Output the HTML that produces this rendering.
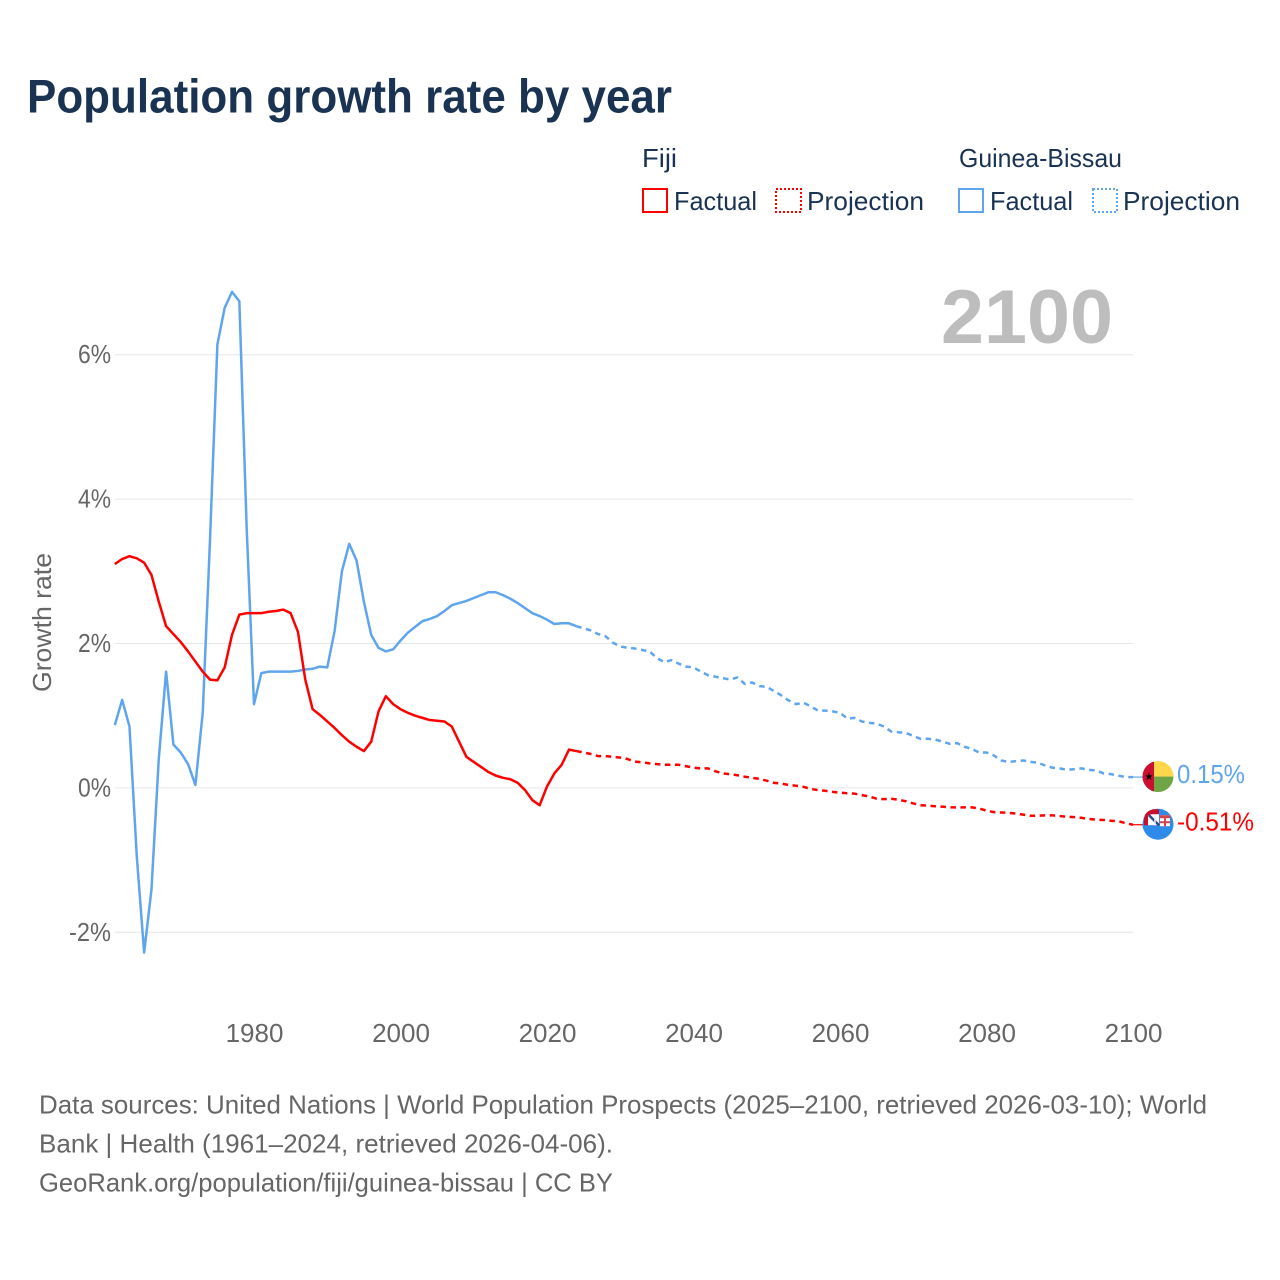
<!DOCTYPE html>
<html lang="en">
<head>
<meta charset="utf-8">
<title>Population growth rate by year</title>
<style>
html,body{margin:0;padding:0;background:#fff;}
svg{display:block;font-family:"Liberation Sans",sans-serif;}
</style>
</head>
<body>
<svg id="chart" xmlns="http://www.w3.org/2000/svg" width="1280" height="1280" viewBox="0 0 1280 1280">
  <rect x="0" y="0" width="1280" height="1280" fill="#fff"/>
  <text x="27" y="112.5" font-size="47" font-weight="700" fill="#1a3353" textLength="645" lengthAdjust="spacingAndGlyphs">Population growth rate by year</text>

  <g font-size="26" fill="#1a3353">
    <text x="642" y="167" textLength="35" lengthAdjust="spacingAndGlyphs">Fiji</text>
    <text x="959" y="167" textLength="163" lengthAdjust="spacingAndGlyphs">Guinea-Bissau</text>
    <rect x="643" y="189" width="24" height="23" fill="none" stroke="#ff0000" stroke-width="2"/>
    <text x="674" y="210" textLength="83" lengthAdjust="spacingAndGlyphs">Factual</text>
    <rect x="776" y="189" width="25" height="23" fill="none" stroke="#ff0000" stroke-width="2" stroke-dasharray="2 2"/>
    <text x="807" y="210" textLength="117" lengthAdjust="spacingAndGlyphs">Projection</text>
    <rect x="959" y="189" width="24" height="23" fill="none" stroke="#5fa5ee" stroke-width="2"/>
    <text x="990" y="210" textLength="83" lengthAdjust="spacingAndGlyphs">Factual</text>
    <rect x="1093" y="189" width="24" height="23" fill="none" stroke="#5fa5ee" stroke-width="2" stroke-dasharray="2 2"/>
    <text x="1123" y="210" textLength="117" lengthAdjust="spacingAndGlyphs">Projection</text>
  </g>

  <g id="grid"></g>
  <text x="941" y="343" font-size="76" font-weight="700" fill="#bdbdbd" textLength="172" lengthAdjust="spacingAndGlyphs">2100</text>
  <g id="yTicks" font-size="26" fill="#666"></g>
  <g id="xTicks" font-size="26" fill="#666"></g>
  <text transform="translate(51,692) rotate(-90)" font-size="26" fill="#666" textLength="139" lengthAdjust="spacingAndGlyphs">Growth rate</text>
  <g id="series" fill="none" stroke-linejoin="round"></g>

  <g id="flagGuinea">
    <clipPath id="clipGuinea"><circle cx="0" cy="0" r="15.5"/></clipPath>
    <g clip-path="url(#clipGuinea)">
      <rect x="-16" y="-16" width="32" height="16" fill="#fdd64a"/>
      <rect x="-16" y="0" width="32" height="16" fill="#6fa544"/>
      <rect x="-16" y="-16" width="12" height="32" fill="#cc0f2f"/>
    </g>
    <polygon points="-9,-4 -8,-1.2 -5.2,-1.2 -7.4,0.6 -6.6,3.4 -9,1.7 -11.4,3.4 -10.6,0.6 -12.8,-1.2 -10,-1.2" fill="#000"/>
  </g>
  <g id="flagFiji">
    <clipPath id="clipFiji"><circle cx="0" cy="0" r="15.5"/></clipPath>
    <g clip-path="url(#clipFiji)">
      <rect x="-16" y="-16" width="32" height="32" fill="#2f8bea"/>
      <rect x="2" y="-9" width="10" height="11" fill="#fff"/>
      <rect x="2" y="-9" width="10" height="3" fill="#d8434b"/>
      <rect x="6" y="-6" width="2" height="8" fill="#d8434b"/>
      <rect x="2" y="-3" width="10" height="2" fill="#d8434b"/>
    </g>
    <path d="M-14,1 L-14,-6 Q-13,-13 -5,-15 L1,-15 L1,1 Z" fill="#c8102e"/>
    <path d="M-10,1 L-10,-8 Q-9,-10 -5,-10 L1,-10 L1,1 Z" fill="#fff"/>
    <path d="M-9,-9 L1,1" stroke="#2a4a8a" stroke-width="2.5" fill="none"/>
    <path d="M-3,-9 L-3,1" stroke="#e8eef8" stroke-width="1.5" fill="none"/>
  </g>
  <g id="endLabels" font-size="26"></g>

  <g font-size="26" fill="#666">
    <text x="39" y="1113.5" textLength="1168" lengthAdjust="spacingAndGlyphs">Data sources: United Nations | World Population Prospects (2025–2100, retrieved 2026-03-10); World</text>
    <text x="39" y="1152.5" textLength="574" lengthAdjust="spacingAndGlyphs">Bank | Health (1961–2024, retrieved 2026-04-06).</text>
    <text x="39" y="1191.5" textLength="574" lengthAdjust="spacingAndGlyphs">GeoRank.org/population/fiji/guinea-bissau | CC BY</text>
  </g>
</svg>
<script>
const factualStartYear = 1961;
const projectionStartYear = 2024;
const xTickYears = [1980, 2000, 2020, 2040, 2060, 2080, 2100];
const yTickValues = [6, 4, 2, 0, -2];
const fijiFactual = [3.10,3.17,3.21,3.18,3.12,2.95,2.58,2.24,2.13,2.02,1.89,1.75,1.61,1.50,1.49,1.67,2.12,2.40,2.42,2.42,2.42,2.44,2.45,2.47,2.42,2.16,1.50,1.09,1.01,0.92,0.83,0.73,0.64,0.57,0.51,0.64,1.06,1.27,1.16,1.09,1.04,1.00,0.97,0.94,0.93,0.92,0.85,0.64,0.43,0.36,0.29,0.22,0.17,0.14,0.12,0.07,-0.03,-0.17,-0.24,0.02,0.20,0.32,0.53,0.51];
const fijiProjection = [0.51,0.49,0.47,0.44,0.44,0.43,0.42,0.40,0.365,0.355,0.34,0.33,0.32,0.32,0.32,0.30,0.28,0.27,0.27,0.23,0.20,0.19,0.175,0.155,0.14,0.125,0.10,0.07,0.06,0.04,0.03,0.015,-0.015,-0.03,-0.04,-0.055,-0.065,-0.075,-0.08,-0.10,-0.12,-0.15,-0.155,-0.15,-0.165,-0.185,-0.215,-0.24,-0.245,-0.255,-0.26,-0.27,-0.27,-0.27,-0.27,-0.285,-0.315,-0.335,-0.34,-0.345,-0.355,-0.37,-0.385,-0.385,-0.38,-0.38,-0.39,-0.40,-0.405,-0.415,-0.43,-0.44,-0.445,-0.455,-0.46,-0.49,-0.51];
const guineaFactual = [0.87,1.22,0.85,-0.95,-2.28,-1.41,0.40,1.61,0.60,0.49,0.33,0.04,1.04,3.45,6.14,6.65,6.87,6.74,3.60,1.16,1.59,1.61,1.61,1.61,1.61,1.62,1.64,1.65,1.68,1.67,2.17,3.00,3.38,3.15,2.58,2.12,1.94,1.89,1.92,2.04,2.15,2.23,2.31,2.34,2.38,2.45,2.53,2.56,2.59,2.63,2.67,2.71,2.71,2.67,2.62,2.56,2.49,2.42,2.38,2.33,2.27,2.28,2.28,2.24];
const guineaProjection = [2.24,2.21,2.18,2.13,2.10,2.01,1.96,1.94,1.93,1.91,1.89,1.80,1.74,1.77,1.72,1.68,1.67,1.61,1.56,1.54,1.52,1.50,1.53,1.44,1.46,1.41,1.40,1.34,1.28,1.21,1.16,1.18,1.13,1.07,1.07,1.06,1.04,0.96,0.97,0.92,0.90,0.89,0.85,0.78,0.77,0.76,0.72,0.68,0.68,0.67,0.64,0.61,0.62,0.57,0.54,0.49,0.49,0.45,0.38,0.36,0.37,0.38,0.36,0.35,0.31,0.28,0.27,0.25,0.26,0.27,0.25,0.24,0.20,0.19,0.17,0.15,0.15];

const svgNS = 'http://www.w3.org/2000/svg';
const colorFiji = '#ff0000';
const colorGuinea = '#5fa5ee';
function xScale(year) { return 1133 - (2100 - year) * 7.325; }
function yScale(value) { return 787.9 - value * 72.2; }
function toPath(values, startYear) {
  return values.map(function (v, i) {
    return (i ? 'L' : 'M') + xScale(startYear + i).toFixed(2) + ',' + yScale(v).toFixed(2);
  }).join(' ');
}

const grid = document.getElementById('grid');
const yTicks = document.getElementById('yTicks');
yTickValues.forEach(function (v) {
  const line = document.createElementNS(svgNS, 'line');
  
  
  line.setAttribute('x1', 115);
  line.setAttribute('x2', 1133);
  line.setAttribute('y1', yScale(v));
  line.setAttribute('y2', yScale(v));
  line.setAttribute('stroke', '#e6e6e6');
  line.setAttribute('stroke-width', 1);
  grid.appendChild(line);
  const label = document.createElementNS(svgNS, 'text');
  
  
  label.setAttribute('x', 111);
  label.setAttribute('y', yScale(v) + 8.5);
  label.setAttribute('text-anchor', 'end');
  label.setAttribute('textLength', v < 0 ? 42 : 33);
  label.setAttribute('lengthAdjust', 'spacingAndGlyphs');
  label.textContent = v + '%';
  yTicks.appendChild(label);
});

const xTicks = document.getElementById('xTicks');
xTickYears.forEach(function (yr) {
  const label = document.createElementNS(svgNS, 'text');
  
  
  label.setAttribute('x', xScale(yr) + 0.5);
  label.setAttribute('y', 1042);
  label.setAttribute('text-anchor', 'middle');
  label.textContent = String(yr);
  xTicks.appendChild(label);
});

const series = document.getElementById('series');
function addLine(name, values, startYear, color, dash) {
  const p = document.createElementNS(svgNS, 'path');
  
  
  p.setAttribute('d', toPath(values, startYear));
  p.setAttribute('stroke', color);
  p.setAttribute('stroke-width', 2.5);
  if (dash) { p.setAttribute('stroke-dasharray', dash); }
  series.appendChild(p);
}
addLine('line-guinea-bissau-factual', guineaFactual, factualStartYear, colorGuinea, null);
addLine('line-fiji-factual', fijiFactual, factualStartYear, colorFiji, null);
addLine('line-guinea-bissau-projection', guineaProjection, projectionStartYear, colorGuinea, '5.5 4.5');
addLine('line-fiji-projection', fijiProjection, projectionStartYear, colorFiji, '5.5 4.5');

function addEnd(nameBase, values, color, flagId) {
  const last = values[values.length - 1];
  const yEnd = yScale(last);
  const leader = document.createElementNS(svgNS, 'line');
  
  
  leader.setAttribute('x1', xScale(2100));
  leader.setAttribute('x2', 1145);
  leader.setAttribute('y1', yEnd);
  leader.setAttribute('y2', yEnd);
  leader.setAttribute('stroke', color);
  leader.setAttribute('stroke-width', 1.2);
  series.appendChild(leader);
  document.getElementById(flagId).setAttribute('transform', 'translate(1158,' + (yEnd - 0.5).toFixed(2) + ')');
  const label = document.createElementNS(svgNS, 'text');
  const text = last.toFixed(2) + '%';
  
  
  label.setAttribute('x', 1177);
  label.setAttribute('y', yEnd + 6);
  label.setAttribute('fill', color);
  label.setAttribute('textLength', last < 0 ? 77 : 68);
  label.setAttribute('lengthAdjust', 'spacingAndGlyphs');
  label.textContent = text;
  document.getElementById('endLabels').appendChild(label);
}
addEnd('guinea-bissau', guineaProjection, colorGuinea, 'flagGuinea');
addEnd('fiji', fijiProjection, colorFiji, 'flagFiji');
</script>
</body>
</html>
